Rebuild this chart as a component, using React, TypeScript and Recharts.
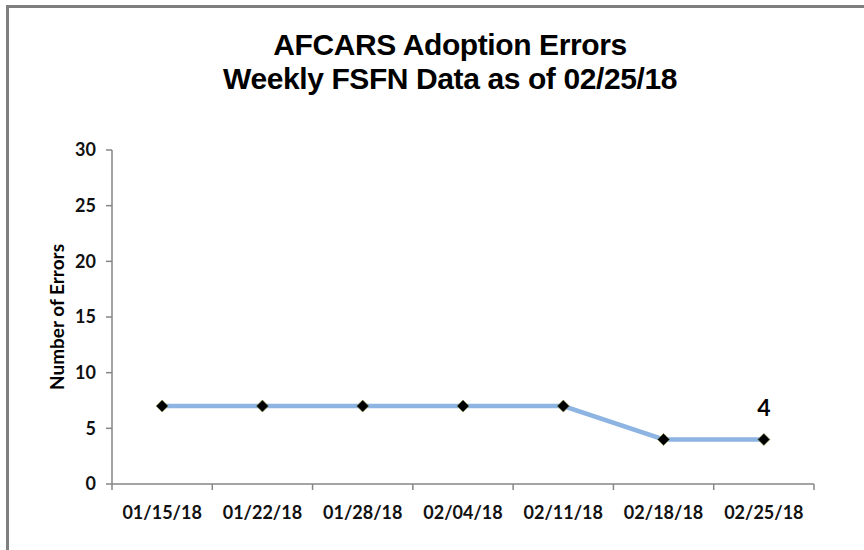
import { LineChart, Line, XAxis, YAxis } from "recharts";

const weeks = ["01/15/18", "01/22/18", "01/28/18", "02/04/18", "02/11/18", "02/18/18", "02/25/18"];
const errors = [7, 7, 7, 7, 7, 4, 4];
const yTicks = [0, 5, 10, 15, 20, 25, 30];

const data = weeks.map((w, i) => ({ week: w, pos: i + 0.5, errors: errors[i] }));

// tick lines sit on band edges (integers), labels sit on band centres (halves)
const xTicks: number[] = [];
for (let i = 0; i <= weeks.length * 2; i++) xTicks.push(i / 2);

const axisGrey = "#868686";
const labelFont = "Lato, 'Open Sans', sans-serif";

function XTick(props: any) {
  const { x, y, payload } = props;
  const v = payload.value as number;
  if (Number.isInteger(v)) {
    return <line x1={x} x2={x} y1={y - 6} y2={y} stroke={axisGrey} strokeWidth={1.5} />;
  }
  const name = weeks[Math.floor(v)];
  return (
    <text x={x} y={y + 29} textAnchor="middle" fontFamily={labelFont} fontWeight={700} fontSize={18} fill="#111">
      {name}
    </text>
  );
}

function Diamond(props: any) {
  const { cx, cy } = props;
  if (cx == null || cy == null) return null;
  const r = 6;
  return (
    <polygon
      points={`${cx},${cy - r} ${cx + r},${cy} ${cx},${cy + r} ${cx - r},${cy}`}
      fill="#000"
      stroke="#7a8c3c"
      strokeWidth={0.6}
    />
  );
}

function LastLabel(props: any) {
  const { x, y, index, value } = props;
  if (index !== weeks.length - 1) return null;
  return (
    <text x={x} y={y - 23} textAnchor="middle" fontFamily={labelFont} fontWeight={700} fontSize={23} fill="#000">
      {value}
    </text>
  );
}

export default function App() {
  return (
    <div style={{ position: "absolute", left: 0, top: 0, width: 864, height: 550, background: "#fff", overflow: "hidden" }}>
      <div
        style={{
          position: "absolute",
          left: 6,
          top: 5,
          width: 900,
          height: 600,
          borderLeft: "3px solid #7f7f7f",
          borderTop: "3px solid #7f7f7f",
        }}
      />
      <div
        style={{
          position: "absolute",
          left: 0,
          top: 28,
          width: 900,
          textAlign: "center",
          fontFamily: "'Liberation Sans', Arial, sans-serif",
          fontWeight: 700,
          fontSize: 30,
          lineHeight: "34px",
          letterSpacing: -0.4,
          color: "#000",
        }}
      >
        <div>AFCARS Adoption Errors</div>
        <div>Weekly FSFN Data as of 02/25/18</div>
      </div>
      <div style={{ position: "absolute", left: 0, top: 0 }}>
        <LineChart width={864} height={550} data={data} margin={{ top: 150, right: 50, bottom: 0, left: 0 }}>
          <XAxis
            dataKey="pos"
            type="number"
            domain={[0, weeks.length]}
            ticks={xTicks}
            interval={0}
            tick={<XTick />}
            tickLine={false}
            tickSize={6}
            tickMargin={0}
            height={66}
            axisLine={{ stroke: axisGrey, strokeWidth: 1.5 }}
          />
          <YAxis
            domain={[0, 30]}
            ticks={yTicks}
            interval={0}
            width={112}
            tickSize={6}
            tickMargin={10}
            axisLine={{ stroke: axisGrey, strokeWidth: 1.5 }}
            tickLine={{ stroke: axisGrey, strokeWidth: 1.5 }}
            tick={{ fontFamily: labelFont, fontWeight: 700, fontSize: 18, fill: "#111" }}
            label={{
              value: "Number of Errors",
              angle: -90,
              position: "insideLeft",
              dx: 52,
              style: { fontFamily: labelFont, fontWeight: 700, fontSize: 19, fill: "#000", textAnchor: "middle" },
            }}
          />
          <Line
            dataKey="errors"
            stroke="#8db4e2"
            strokeWidth={4.5}
            dot={<Diamond />}
            activeDot={false}
            label={<LastLabel />}
            isAnimationActive={false}
          />
        </LineChart>
      </div>
    </div>
  );
}
